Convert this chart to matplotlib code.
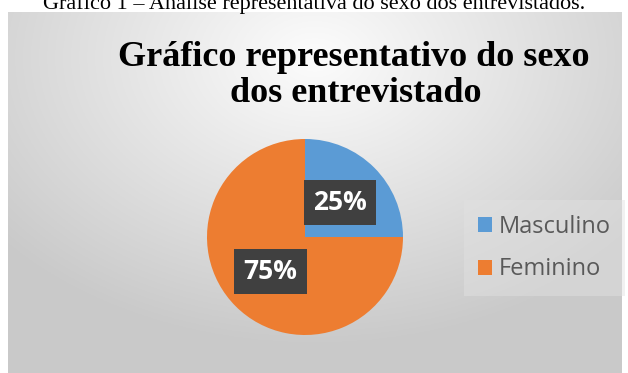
import numpy as np
import matplotlib.pyplot as plt
from matplotlib.patches import Patch

labels = ['Masculino', 'Feminino']
values = [25, 75]
colors = ['#5B9BD5', '#ED7D31']

W, H = 628, 373
fig = plt.figure(figsize=(W / 100, H / 100), dpi=100)
fig.patch.set_facecolor('white')


def box(x0, y0, x1, y1):
    # pixel box (top-left origin) -> figure fraction rect
    return [x0 / W, 1 - y1 / H, (x1 - x0) / W, (y1 - y0) / H]


# gray chart area with a soft light spot behind the title
bg = fig.add_axes(box(8, 12, 622, 373))
gx = np.linspace(-1, 1, 400)
gy = np.linspace(-1, 1, 240)
GX, GY = np.meshgrid(gx, gy)
R = np.sqrt((GX * 0.9) ** 2 + ((GY + 0.75) * 0.75) ** 2)
shade = 0.99 - 0.2 * np.clip(R, 0, 1.2) / 1.2
bg.imshow(np.dstack([shade] * 3), aspect='auto', origin='upper',
          extent=[0, 1, 0, 1])
bg.axis('off')

# caption above the chart, partly cut off by the top edge
fig.text(0.5, 1 - 4 / H, 'Gráfico 1 – Análise representativa do sexo dos entrevistados.',
         family='Liberation Serif', fontsize=16, ha='center', va='center',
         color='black')

fig.text(354 / W, 1 - 57 / H, 'Gráfico representativo do sexo',
         family='Liberation Serif', weight='bold', fontsize=26,
         ha='center', va='center', color='black')
fig.text(356 / W, 1 - 94 / H, 'dos entrevistado',
         family='Liberation Serif', weight='bold', fontsize=26,
         ha='center', va='center', color='black')

# pie
cx, cy, r = 305, 237, 98
ax = fig.add_axes(box(cx - 110, cy - 110, cx + 110, cy + 110))
wedges, _, autotexts = ax.pie(values, colors=colors, startangle=90,
                              counterclock=False, radius=1,
                              autopct=lambda p: f'{p:.0f}%', pctdistance=0.5,
                              wedgeprops=dict(linewidth=0))
ax.set_xlim(-110 / r, 110 / r)
ax.set_ylim(-110 / r, 110 / r)
ax.set_aspect('equal')
ax.axis('off')
for t in autotexts:
    t.set_color('white')
    t.set_fontsize(19)
    t.set_fontweight('bold')
    t.set_family('Open Sans')
    t.set_bbox(dict(boxstyle='square,pad=0.35', facecolor='#404040',
                    edgecolor='none'))

handles = [Patch(facecolor=c, edgecolor='none') for c in colors]
leg = fig.legend(handles, labels, loc='center left',
                 bbox_to_anchor=(452 / W, 1 - 248 / H),
                 prop=dict(family='Open Sans', size=17),
                 frameon=True, facecolor='#e2e2e2', edgecolor='none',
                 framealpha=0.45, fancybox=False, handlelength=0.6,
                 handleheight=0.6, handletextpad=0.3, labelspacing=0.8,
                 borderpad=0.6)
for t in leg.get_texts():
    t.set_color('#595959')

fig.savefig('out.png', dpi=100)
